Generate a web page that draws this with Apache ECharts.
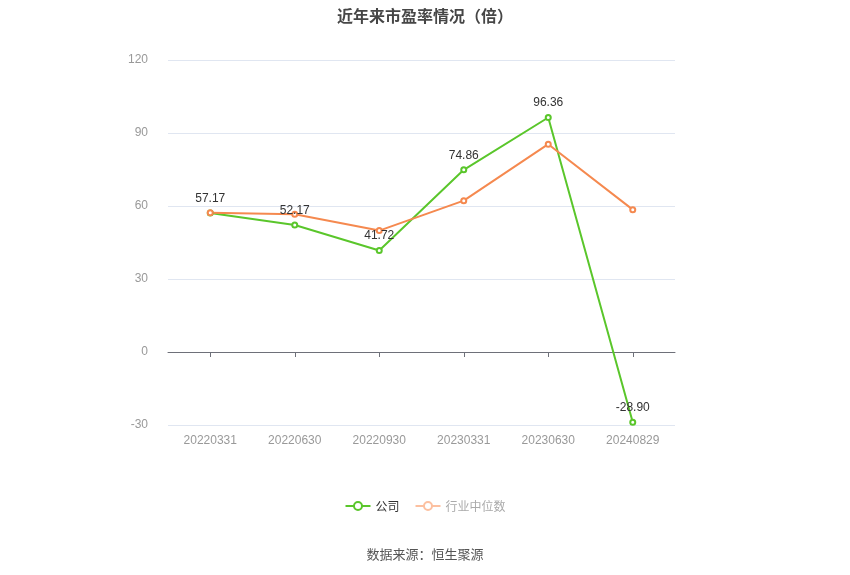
<!DOCTYPE html>
<html><head><meta charset="utf-8">
<script src="https://cdn.jsdelivr.net/npm/echarts@6/dist/echarts.min.js"></script>
<style>html,body{margin:0;padding:0;background:#fff}#c{width:850px;height:575px}</style>
</head><body><div id="c"></div>
<script>
const categories = ['20220331','20220630','20220930','20230331','20230630','20240829'];
const companyPE = [57.17, 52.17, 41.72, 74.86, 96.36, -28.90];
const industryPE = [57.2, 56.6, 49.9, 62.2, 85.4, 58.5];
const yTicks = { min: -30, max: 120, interval: 30 };

const chart = echarts.init(document.getElementById('c'));
chart.setOption({
  animation: false,
  title: [
    { text: '近年来市盈率情况（倍）', left: 'center', top: 3,
      textStyle: { fontSize: 16, fontWeight: 'bold', color: '#464646', fontFamily: 'Noto Sans CJK SC' } },
    { text: '数据来源：恒生聚源', left: 'center', top: 543,
      textStyle: { fontSize: 13, fontWeight: 'normal', color: '#555', fontFamily: 'Noto Sans CJK SC' } }
  ],
  legend: {
    top: 495, left: 'center', itemWidth: 25, itemHeight: 10, itemGap: 15,
    textStyle: { fontSize: 12, color: '#333', fontFamily: 'Noto Sans CJK SC' },
    data: [
      { name: '公司' },
      { name: '行业中位数', textStyle: { color: '#aaa' },
        itemStyle: { color: '#fcc0a0' }, lineStyle: { color: '#fcc0a0', type: 'solid', width: 2 } }
    ]
  },
  grid: { left: 168, right: 175, top: 60, bottom: 150 },
  xAxis: [
    { type: 'category', data: categories, position: 'bottom',
      axisLine: { show: false, onZero: false }, axisTick: { show: false },
      axisLabel: { color: '#999', fontSize: 12, margin: 10 } },
    { type: 'category', data: categories, position: 'bottom',
      axisLine: { show: true, onZero: true, lineStyle: { color: '#6e7079' } },
      axisTick: { show: true, alignWithLabel: true, inside: false, length: 5, lineStyle: { color: '#6e7079' } },
      axisLabel: { show: false } }
  ],
  yAxis: {
    type: 'value', min: yTicks.min, max: yTicks.max, interval: yTicks.interval,
    axisLine: { show: false }, axisTick: { show: false },
    axisLabel: { color: '#999', fontSize: 12, margin: 20 },
    splitLine: { lineStyle: { color: '#e0e6f1' } }
  },
  series: [
    { name: '公司', type: 'line', data: companyPE, xAxisIndex: 0,
      symbol: 'emptyCircle', symbolSize: 5,
      itemStyle: { color: '#5ac62b' }, lineStyle: { color: '#5ac62b', width: 2 },
      label: { show: true, position: 'top', color: '#333', fontSize: 12,
        formatter: p => p.value.toFixed(2) } },
    { name: '行业中位数', type: 'line', data: industryPE, xAxisIndex: 0,
      symbol: 'emptyCircle', symbolSize: 5,
      itemStyle: { color: '#f5894f' }, lineStyle: { color: '#f5894f', width: 2 } }
  ]
});
</script></body></html>
